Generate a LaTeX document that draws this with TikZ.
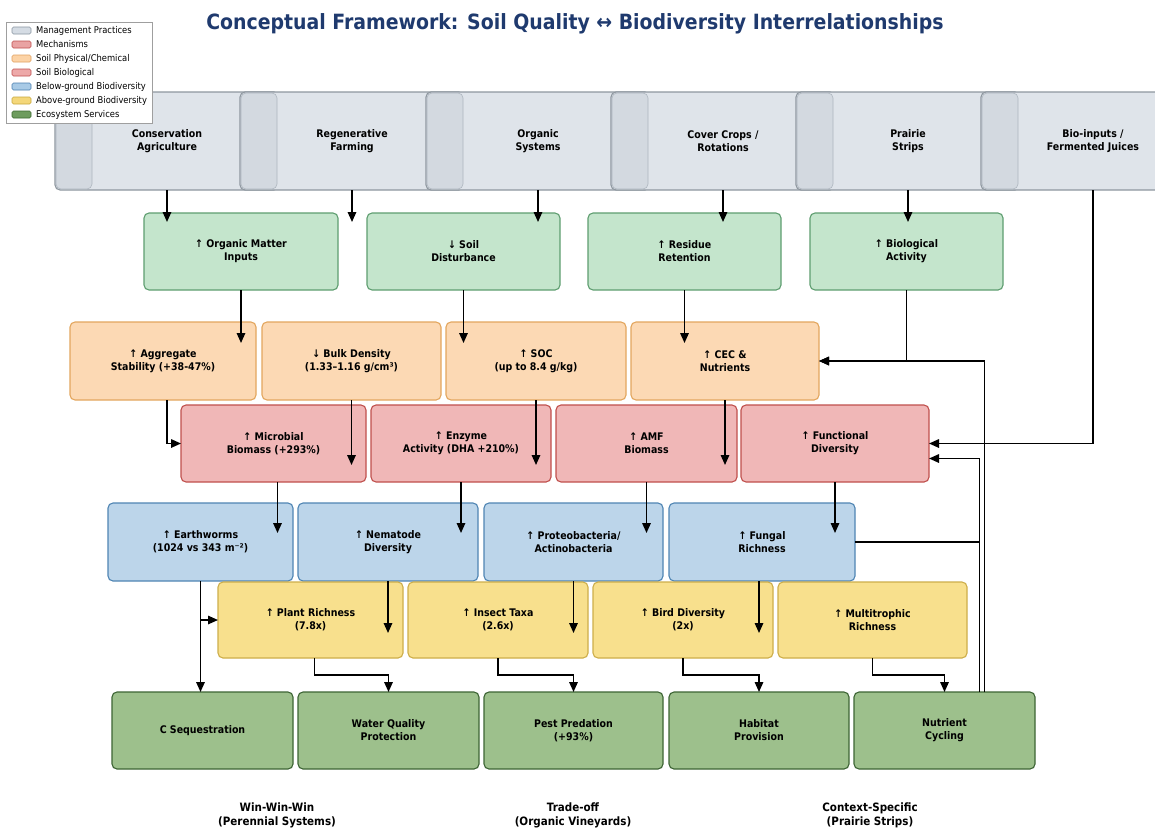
\documentclass[tikz,border=0pt]{standalone}
\usepackage{fontspec}
\setmainfont{DejaVu Sans Condensed}[BoldFont={DejaVu Sans Condensed Bold}]
\usetikzlibrary{arrows.meta,calc}
\definecolor{mpfill}{HTML}{DFE4EA}
\definecolor{mpedge}{HTML}{8E979F}
\definecolor{mptab}{HTML}{D3D9E0}
\definecolor{mptabedge}{HTML}{AEB6BF}
\definecolor{gfill}{HTML}{C4E5CC}
\definecolor{gedge}{HTML}{5E9E70}
\definecolor{ofill}{HTML}{FCD9B4}
\definecolor{oedge}{HTML}{E3A65E}
\definecolor{rfill}{HTML}{F0B7B7}
\definecolor{redge}{HTML}{C0504D}
\definecolor{bfill}{HTML}{BCD5EA}
\definecolor{bedge}{HTML}{4F85B3}
\definecolor{yfill}{HTML}{F8E08D}
\definecolor{yedge}{HTML}{CDAE4A}
\definecolor{dfill}{HTML}{9DC08C}
\definecolor{dedge}{HTML}{3D6434}
\definecolor{titlec}{HTML}{1F3A6E}
\definecolor{lmgf}{HTML}{D5DCE4}\definecolor{lmge}{HTML}{8A96A2}
\definecolor{lmef}{HTML}{E9A3A3}\definecolor{lmee}{HTML}{C05050}
\definecolor{lspf}{HTML}{FCD3A6}\definecolor{lspe}{HTML}{E0A060}
\definecolor{lsbf}{HTML}{EDA9A9}\definecolor{lsbe}{HTML}{C05050}
\definecolor{lbgf}{HTML}{A8CAE6}\definecolor{lbge}{HTML}{4A7FB0}
\definecolor{lagf}{HTML}{F4D77A}\definecolor{lage}{HTML}{C9A93C}
\definecolor{lesf}{HTML}{6E9C5E}\definecolor{lese}{HTML}{3C6A30}
\newcommand\placebox[7]{\node[#1, minimum width={#5-#3}, minimum height={#6-#4}] (#2) at ({(#3+#5)/2},{(#4+#6)/2}) {#7};}
\newcommand\mptabstrip[1]{\draw[fill=mptab, draw=mptabedge, line width=0.6pt, rounded corners=5pt] ({#1+1},93) rectangle ({#1+37},189);}
\begin{document}
\begin{tikzpicture}[x=1pt,y=-1pt,
  bx/.style={draw, rounded corners=5pt, line width=1.1pt, inner sep=0pt, outer sep=0pt, align=center, font=\bfseries\fontsize{10.5}{13}\selectfont},
  mpb/.style={bx, fill=mpfill, draw=mpedge},
  gb/.style={bx, fill=gfill, draw=gedge},
  ob/.style={bx, fill=ofill, draw=oedge},
  rb/.style={bx, fill=rfill, draw=redge},
  bb/.style={bx, fill=bfill, draw=bedge},
  yb/.style={bx, fill=yfill, draw=yedge},
  db/.style={bx, fill=dfill, draw=dedge},
  arr/.style={line width=1.6pt, -{Triangle[length=10pt,width=8.5pt]}},
  ln/.style={line width=1.6pt},
  lab/.style={font=\bfseries\fontsize{11.5}{14}\selectfont, align=center, inner sep=0pt},
  leg/.style={font=\fontsize{9.3}{10}\selectfont, anchor=west, inner sep=0pt},
  sw/.style={rounded corners=1.5pt, line width=0.6pt}
]
\fill[white] (0,0) rectangle (1155,830);
\useasboundingbox (0,0) rectangle (1155,830);

\node[font=\bfseries\fontsize{21}{24}\selectfont, text=titlec, inner sep=0pt] (title) at (575,24) {Conceptual Framework: Soil Quality ↔ Biodiversity Interrelationships};

% management practices
\placebox{mpb}{mp1}{55}{92}{279}{190}{Conservation\\Agriculture}
\mptabstrip{55}
\placebox{mpb}{mp2}{240}{92}{464}{190}{Regenerative\\Farming}
\mptabstrip{240}
\placebox{mpb}{mp3}{426}{92}{650}{190}{Organic\\Systems}
\mptabstrip{426}
\placebox{mpb}{mp4}{611}{92}{835}{190}{Cover Crops /\\Rotations}
\mptabstrip{611}
\placebox{mpb}{mp5}{796}{92}{1020}{190}{Prairie\\Strips}
\mptabstrip{796}
\placebox{mpb}{mp6}{981}{92}{1205}{190}{Bio-inputs /\\Fermented Juices}
\mptabstrip{981}

% mechanisms
\placebox{gb}{g1}{144}{213}{338}{290}{↑ Organic Matter\\Inputs}
\placebox{gb}{g2}{367}{213}{560}{290}{↓ Soil\\Disturbance}
\placebox{gb}{g3}{588}{213}{781}{290}{↑ Residue\\Retention}
\placebox{gb}{g4}{810}{213}{1003}{290}{↑ Biological\\Activity}

% soil physical/chemical
\placebox{ob}{o1}{70}{322}{256}{400}{↑ Aggregate\\Stability (+38-47\%)}
\placebox{ob}{o2}{262}{322}{441}{400}{↓ Bulk Density\\(1.33–1.16 g/cm³)}
\placebox{ob}{o3}{446}{322}{626}{400}{↑ SOC\\(up to 8.4 g/kg)}
\placebox{ob}{o4}{631}{322}{819}{400}{↑ CEC \&\\Nutrients}

% soil biological
\placebox{rb}{r1}{181}{405}{366}{482}{↑ Microbial\\Biomass (+293\%)}
\placebox{rb}{r2}{371}{405}{551}{482}{↑ Enzyme\\Activity (DHA +210\%)}
\placebox{rb}{r3}{556}{405}{737}{482}{↑ AMF\\Biomass}
\placebox{rb}{r4}{741}{405}{929}{482}{↑ Functional\\Diversity}

% below-ground
\placebox{bb}{b1}{108}{503}{293}{581}{↑ Earthworms\\(1024 vs 343 m⁻²)}
\placebox{bb}{b2}{298}{503}{478}{581}{↑ Nematode\\Diversity}
\placebox{bb}{b3}{484}{503}{663}{581}{↑ Proteobacteria/\\Actinobacteria}
\placebox{bb}{b4}{669}{503}{855}{581}{↑ Fungal\\Richness}

% above-ground
\placebox{yb}{y1}{218}{582}{403}{658}{↑ Plant Richness\\(7.8x)}
\placebox{yb}{y2}{408}{582}{588}{658}{↑ Insect Taxa\\(2.6x)}
\placebox{yb}{y3}{593}{582}{773}{658}{↑ Bird Diversity\\(2x)}
\placebox{yb}{y4}{778}{582}{967}{658}{↑ Multitrophic\\Richness}

% ecosystem services
\placebox{db}{d1}{112}{692}{293}{769}{C Sequestration}
\placebox{db}{d2}{298}{692}{479}{769}{Water Quality\\Protection}
\placebox{db}{d3}{484}{692}{663}{769}{Pest Predation\\(+93\%)}
\placebox{db}{d4}{669}{692}{849}{769}{Habitat\\Provision}
\placebox{db}{d5}{854}{692}{1035}{769}{Nutrient\\Cycling}

% connectors: practices -> mechanisms
\coordinate (regend) at (352,222);
\draw[arr] (mp1.south) -- ($(mp1.south|-g1.north)+(0,9)$);
\draw[arr] (mp2.south) -- (regend);
\draw[arr] (mp3.south) -- ($(mp3.south|-g2.north)+(0,9)$);
\draw[arr] (mp4.south) -- ($(mp4.south|-g3.north)+(0,9)$);
\draw[arr] (mp5.south) -- ($(mp5.south|-g4.north)+(0,9)$);
\draw[arr] (mp6.south) |- (r4.east);

% mechanisms -> soil phys/chem
\draw[arr] (g1.south) -- ($(g1.south|-o1.north)+(0,21)$);
\draw[arr] (g2.south) -- ($(g2.south|-o3.north)+(0,21)$);
\draw[arr] (g3.south) -- ($(g3.south|-o4.north)+(0,21)$);
\draw[arr] (g4.south) |- (o4.east);

% feedback from nutrient cycling
\coordinate (fbA) at ($(d5.north)+(40,0)$);
\coordinate (fbB) at ($(d5.north)+(35,0)$);
\draw[arr] (fbA) |- (o4.east);
\draw[arr] (fbB) |- ($(r4.east)+(0,15)$);
\draw[ln] (b4.east) -- (b4.east -| fbB);

% soil phys/chem -> soil biological
\draw[arr] ($(o1.south)+(4,0)$) |- (r1.west);
\draw[arr] (o2.south) -- ($(o2.south|-r1.north)+(0,60)$);
\draw[arr] (o3.south) -- ($(o3.south|-r2.north)+(0,60)$);
\draw[arr] (o4.south) -- ($(o4.south|-r3.north)+(0,60)$);

% soil biological -> below-ground
\draw[arr] ($(r1.south)+(4,0)$) -- ($(r1.south|-b1.north)+(4,30)$);
\draw[arr] (r2.south) -- ($(r2.south|-b2.north)+(0,30)$);
\draw[arr] (r3.south) -- ($(r3.south|-b3.north)+(0,30)$);
\draw[arr] (r4.south) -- ($(r4.south|-b4.north)+(0,30)$);

% below-ground -> above-ground / services
\draw[arr] (b1.south) -- (b1.south|-d1.north);
\draw[arr] (b1.south) |- (y1.west);
\draw[arr] (b2.south) -- ($(b2.south|-y1.north)+(0,51)$);
\draw[arr] (b3.south) -- ($(b3.south|-y2.north)+(0,51)$);
\draw[arr] ($(b4.south)+(-3,0)$) -- ($(b4.south|-y3.north)+(-3,51)$);

% above-ground -> services
\draw[arr] ($(y1.south)+(4,0)$) -- ($(y1.south)+(4,17)$) -| (d2.north);
\draw[arr] (y2.south) -- ($(y2.south)+(0,17)$) -| (d3.north);
\draw[arr] (y3.south) -- ($(y3.south)+(0,17)$) -| (d4.north);
\draw[arr] (y4.south) -- ($(y4.south)+(0,17)$) -| (d5.north);

% bottom labels
\node[lab] (t1) at (277,815) {Win-Win-Win\\(Perennial Systems)};
\node[lab] (t2) at (573,815) {Trade-off\\(Organic Vineyards)};
\node[lab] (t3) at (870,815) {Context-Specific\\(Prairie Strips)};

% legend
\draw[fill=white, draw=gray!75, line width=0.7pt] (6,22) rectangle (152,123);
\draw[sw, fill=lmgf, draw=lmge] (12,27) rectangle (31,34);
\node[leg] (l1) at (36,30.5) {Management Practices};
\draw[sw, fill=lmef, draw=lmee] (12,41) rectangle (31,48);
\node[leg] (l2) at (36,44.5) {Mechanisms};
\draw[sw, fill=lspf, draw=lspe] (12,55) rectangle (31,62);
\node[leg] (l3) at (36,58.5) {Soil Physical/Chemical};
\draw[sw, fill=lsbf, draw=lsbe] (12,69) rectangle (31,76);
\node[leg] (l4) at (36,72.5) {Soil Biological};
\draw[sw, fill=lbgf, draw=lbge] (12,83) rectangle (31,90);
\node[leg] (l5) at (36,86.5) {Below-ground Biodiversity};
\draw[sw, fill=lagf, draw=lage] (12,97) rectangle (31,104);
\node[leg] (l6) at (36,100.5) {Above-ground Biodiversity};
\draw[sw, fill=lesf, draw=lese] (12,111) rectangle (31,118);
\node[leg] (l7) at (36,114.5) {Ecosystem Services};
\end{tikzpicture}
\end{document}
